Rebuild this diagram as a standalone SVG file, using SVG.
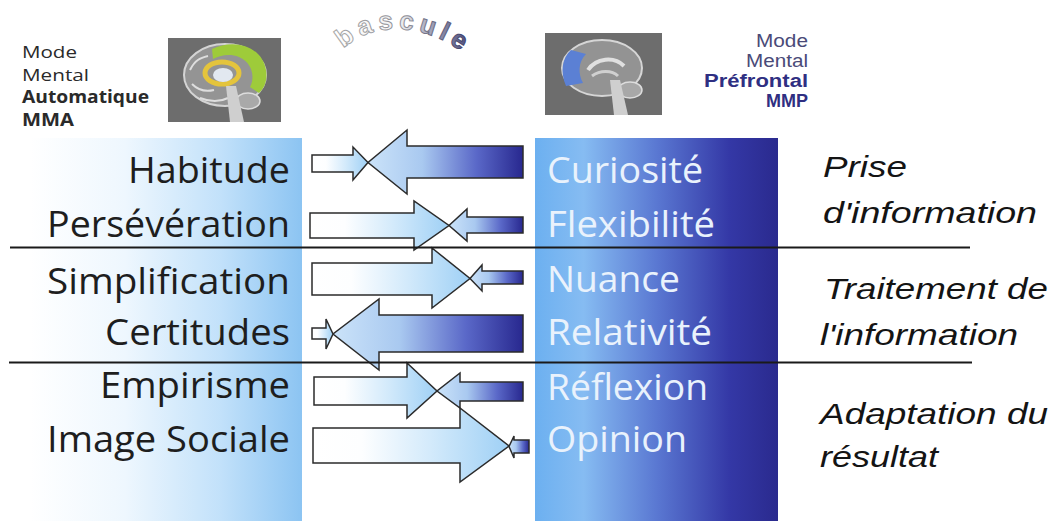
<svg xmlns="http://www.w3.org/2000/svg" width="1053" height="521" viewBox="0 0 1053 521">
<defs>
<linearGradient id="gPanelL" x1="30" y1="0" x2="302" y2="0" gradientUnits="userSpaceOnUse">
<stop offset="0" stop-color="#ffffff"/><stop offset="0.35" stop-color="#eef7fe"/><stop offset="0.7" stop-color="#c2e1fa"/><stop offset="1" stop-color="#8cc4f2"/>
</linearGradient>
<linearGradient id="gPanelR" x1="535" y1="0" x2="778" y2="0" gradientUnits="userSpaceOnUse">
<stop offset="0" stop-color="#6cb0f0"/><stop offset="0.2" stop-color="#86bcf2"/><stop offset="0.5" stop-color="#5a78d2"/><stop offset="0.8" stop-color="#3438a6"/><stop offset="1" stop-color="#2a2a8e"/>
</linearGradient>
<linearGradient id="gR" x1="0" y1="0" x2="1" y2="0">
<stop offset="0" stop-color="#ffffff"/><stop offset="0.25" stop-color="#fdfeff"/><stop offset="0.6" stop-color="#d3eafb"/><stop offset="1" stop-color="#9fd0f5"/>
</linearGradient>
<linearGradient id="gL" x1="0" y1="0" x2="1" y2="0">
<stop offset="0" stop-color="#cbe3f9"/><stop offset="0.35" stop-color="#a9c9f0"/><stop offset="0.7" stop-color="#5a68c8"/><stop offset="1" stop-color="#28288f"/>
</linearGradient>
<linearGradient id="gBascule" x1="335" y1="0" x2="478" y2="0" gradientUnits="userSpaceOnUse">
<stop offset="0" stop-color="#ffffff"/><stop offset="0.45" stop-color="#f2f2f2"/><stop offset="0.7" stop-color="#9a9ab0"/><stop offset="1" stop-color="#3a3a6e"/>
</linearGradient>
<linearGradient id="gBasculeS" x1="335" y1="0" x2="478" y2="0" gradientUnits="userSpaceOnUse">
<stop offset="0" stop-color="#a8a8a8"/><stop offset="0.5" stop-color="#8e8e98"/><stop offset="1" stop-color="#2e2e60"/>
</linearGradient>
<path id="arcB" d="M334,64 C352,20 430,14 480,68"/>
</defs>
<style>
.lab{font-family:"Open Sans","Noto Sans",sans-serif;font-size:37px;fill:#1e1e1e}
.labw{font-family:"Open Sans","Noto Sans",sans-serif;font-size:37px;fill:#e9f2fc}
.cat{font-family:"Liberation Sans",Arial,sans-serif;font-style:italic;font-size:30px;fill:#141414}
.hd{font-family:"Open Sans","Noto Sans",sans-serif;font-size:17px;fill:#2a2a2a}
.hdr{font-family:"Liberation Sans",Arial,sans-serif;font-size:17.5px;fill:#4a4a78}
.hdrb{font-family:"Liberation Sans",Arial,sans-serif;font-size:17.5px;font-weight:bold;fill:#2f2f82}
.b{font-weight:bold}
.arR{fill:url(#gR);stroke:#2b2b2b;stroke-width:1.5}
.arL{fill:url(#gL);stroke:#2b2b2b;stroke-width:1.5}
.div{stroke:#1a1a1a;stroke-width:2}
</style>
<rect width="1053" height="521" fill="#ffffff"/>

<g id="panel-mma">
<rect x="30" y="138" width="272" height="383" fill="url(#gPanelL)"/>
<text class="lab" x="128" y="183" textLength="162" lengthAdjust="spacingAndGlyphs">Habitude</text>
<text class="lab" x="47" y="237" textLength="243" lengthAdjust="spacingAndGlyphs">Persévération</text>
<text class="lab" x="47" y="294" textLength="243" lengthAdjust="spacingAndGlyphs">Simplification</text>
<text class="lab" x="105" y="345" textLength="185" lengthAdjust="spacingAndGlyphs">Certitudes</text>
<text class="lab" x="100" y="398" textLength="190" lengthAdjust="spacingAndGlyphs">Empirisme</text>
<text class="lab" x="47" y="452" textLength="243" lengthAdjust="spacingAndGlyphs">Image Sociale</text>
</g>

<g id="panel-mmp">
<rect x="535" y="138" width="243" height="383" fill="url(#gPanelR)"/>
<text class="labw" x="547" y="183" textLength="156" lengthAdjust="spacingAndGlyphs">Curiosité</text>
<text class="labw" x="547" y="237" textLength="168" lengthAdjust="spacingAndGlyphs">Flexibilité</text>
<text class="labw" x="547" y="292" textLength="133" lengthAdjust="spacingAndGlyphs">Nuance</text>
<text class="labw" x="547" y="345" textLength="165" lengthAdjust="spacingAndGlyphs">Relativité</text>
<text class="labw" x="547" y="400" textLength="161" lengthAdjust="spacingAndGlyphs">Réflexion</text>
<text class="labw" x="547" y="452" textLength="140" lengthAdjust="spacingAndGlyphs">Opinion</text>
</g>

<g id="header-mma">
<text class="hd" x="22" y="58" textLength="55" lengthAdjust="spacingAndGlyphs">Mode</text>
<text class="hd" x="22" y="81" textLength="67" lengthAdjust="spacingAndGlyphs">Mental</text>
<text class="hd b" x="22" y="103" textLength="127" lengthAdjust="spacingAndGlyphs">Automatique</text>
<text class="hd b" x="22" y="126" textLength="52" lengthAdjust="spacingAndGlyphs">MMA</text>
<g id="brain-mma">
<rect x="168" y="38" width="113" height="84" fill="#6d6d6d"/>
<ellipse cx="225" cy="75" rx="41" ry="31" fill="#949494" stroke="#d4d4d4" stroke-width="2"/>
<path d="M212,49 C234,38 262,46 266,70 C268,82 263,90 259,93 L250,87 C255,78 253,63 239,57 C229,53 219,56 213,59 Z" fill="#9ecb3a"/>
<ellipse cx="222" cy="73" rx="17" ry="11" fill="none" stroke="#e4c43c" stroke-width="5"/>
<ellipse cx="223" cy="75" rx="10" ry="7" fill="#e2e8f0"/>
<path d="M190,70 C195,60 200,58 208,56 M192,84 C198,90 206,92 214,90 M200,98 C210,102 220,102 228,98" fill="none" stroke="#dedede" stroke-width="2"/>
<ellipse cx="248" cy="101" rx="12" ry="8" fill="#a9a9a9" stroke="#dddddd" stroke-width="1.5"/>
<path d="M226,86 L236,86 L244,122 L230,122 Z" fill="#cfcfcf"/>
</g>
</g>

<g id="header-mmp">
<text class="hdr" x="808" y="47" text-anchor="end" textLength="52" lengthAdjust="spacingAndGlyphs">Mode</text>
<text class="hdr" x="808" y="67" text-anchor="end" textLength="62" lengthAdjust="spacingAndGlyphs">Mental</text>
<text class="hdrb" x="808" y="87" text-anchor="end" textLength="104" lengthAdjust="spacingAndGlyphs">Préfrontal</text>
<text class="hdrb" x="808" y="107" text-anchor="end" textLength="42" lengthAdjust="spacingAndGlyphs">MMP</text>
<g id="brain-mmp">
<rect x="545" y="33" width="117" height="82" fill="#6d6d6d"/>
<ellipse cx="602" cy="68" rx="40" ry="28" fill="#939393" stroke="#d6d6d6" stroke-width="2"/>
<path d="M571,50 C562,58 560,72 566,86 L583,83 C578,74 578,62 586,54 Z" fill="#5b80d4"/>
<path d="M588,70 C596,58 614,56 624,66" fill="none" stroke="#e0e0e0" stroke-width="4"/>
<path d="M592,76 C600,70 612,70 618,76" fill="none" stroke="#d0d0d0" stroke-width="3"/>
<ellipse cx="630" cy="90" rx="12" ry="8" fill="#a8a8a8" stroke="#dddddd" stroke-width="1.5"/>
<path d="M610,80 L620,80 L628,115 L614,115 Z" fill="#cfcfcf"/>
</g>
</g>

<g id="bascule">
<text font-family="'Liberation Sans',Arial,sans-serif" font-weight="bold" font-size="26" letter-spacing="5" fill="url(#gBascule)" stroke="url(#gBasculeS)" stroke-width="1"><textPath href="#arcB" startOffset="18">bascule</textPath></text>
</g>

<g id="connectors">
<polygon class="arL" points="523,146 407,146 407,130 368,162.5 407,194 407,178 523,178"/>
<polygon class="arR" points="312,155 353,155 353,147 368,162.5 353,180 353,172 312,172"/>
<polygon class="arL" points="523,217 467,217 467,209 449,225.5 467,241 467,233 523,233"/>
<polygon class="arR" points="310,213 414,213 414,201 449,225.5 414,250 414,238 310,238"/>
<polygon class="arL" points="523,271 482,271 482,265 470,278.5 482,291 482,284 523,284"/>
<polygon class="arR" points="312,263 432,263 432,248 470,278.5 432,308 432,295 312,295"/>
<polygon class="arL" points="523,315 379,315 379,299 333,334 379,370 379,352 523,352"/>
<polygon class="arR" points="312,328 326,328 326,319 333,334 326,349 326,339 312,339"/>
<polygon class="arL" points="523,382 460,382 460,373 437,391 460,408 460,401 523,401"/>
<polygon class="arR" points="314,377 407,377 407,363 437,391 407,418 407,405 314,405"/>
<polygon class="arR" points="313,428 460,428 460,408 509,446 460,482 460,463 313,463"/>
<polygon class="arL" points="529,440 514,440 514,436 509,446.5 514,458 514,453 529,453"/>
</g>

<g id="dividers">
<line class="div" x1="10" y1="247.5" x2="970" y2="247.5"/>
<line class="div" x1="9" y1="362.5" x2="972" y2="362.5"/>
</g>

<g id="categories">
<text class="cat" x="823" y="177" textLength="84" lengthAdjust="spacingAndGlyphs">Prise</text>
<text class="cat" x="823" y="223" textLength="214" lengthAdjust="spacingAndGlyphs">d'information</text>
<text class="cat" x="824" y="299" textLength="224" lengthAdjust="spacingAndGlyphs">Traitement de</text>
<text class="cat" x="820" y="345" textLength="198" lengthAdjust="spacingAndGlyphs">l'information</text>
<text class="cat" x="820" y="424" textLength="228" lengthAdjust="spacingAndGlyphs">Adaptation du</text>
<text class="cat" x="820" y="467" textLength="118" lengthAdjust="spacingAndGlyphs">résultat</text>
</g>
</svg>
